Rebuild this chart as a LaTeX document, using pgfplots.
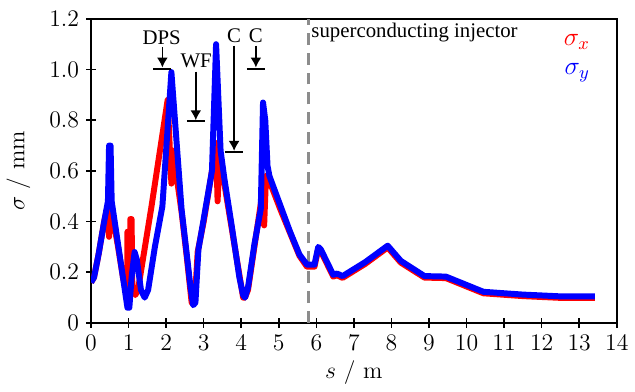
\RequirePackage{fix-cm}
\documentclass[border=0pt]{standalone}
\usepackage{fontspec}
\newfontfamily\timesfont{Liberation Serif}
\usepackage{pgfplots}
\pgfplotsset{compat=1.18}
\usetikzlibrary{arrows.meta}

\begin{document}
\begin{tikzpicture}
\begin{axis}[
  scale only axis, width=264.5bp, height=153bp,
  xmin=0, xmax=14, ymin=0, ymax=1.2,
  xtick={0,1,2,3,4,5,6,7,8,9,10,11,12,13,14},
  ytick={0,0.2,0.4,0.6,0.8,1.0,1.2},
  yticklabels={$0$,$0.2$,$0.4$,$0.6$,$0.8$,$1.0$,$1.2$},
  xtick pos=bottom, ytick pos=left,
  tick align=center, major tick length=5bp,
  axis line style={line width=1bp},
  every tick/.style={line width=0.8bp, black},
  tick label style={font=\fontsize{12}{14}\selectfont},
  label style={font=\fontsize{12}{14}\selectfont},
  xlabel={$s$ / m}, ylabel={$\sigma$ / mm},
  xlabel style={at={(axis description cs:0.5,-0.163)}, anchor=center},
  ylabel style={at={(axis description cs:-0.138,0.5)}, anchor=center},
]
\draw[gray!90, line width=1.5bp, dash pattern=on 6bp off 4bp] (axis cs:5.8,0) -- (axis cs:5.8,1.2);

\addplot[red, line width=3bp, line join=round] coordinates {
(0.00,0.16) (0.08,0.18) (0.20,0.27) (0.35,0.40) (0.44,0.46) (0.48,0.34) (0.53,0.44) (0.58,0.42)
(0.72,0.30) (0.85,0.18) (0.94,0.12) (0.965,0.12) (0.97,0.36) (0.99,0.36) (1.01,0.14) (1.04,0.14)
(1.045,0.41) (1.08,0.41) (1.10,0.14) (1.18,0.11) (1.25,0.13) (1.61,0.46) (2.04,0.88) (2.14,0.55)
(2.18,0.68) (2.41,0.44) (2.55,0.26) (2.68,0.08) (2.76,0.08) (2.84,0.28) (3.00,0.40) (3.20,0.58)
(3.33,0.71) (3.37,0.48) (3.41,0.62) (3.45,0.66) (3.55,0.55) (4.05,0.10) (4.10,0.10) (4.18,0.13)
(4.35,0.30) (4.55,0.50) (4.61,0.385) (4.66,0.58) (4.75,0.56) (5.05,0.445) (5.30,0.355) (5.55,0.265)
(5.75,0.222) (5.95,0.222) (6.05,0.292) (6.12,0.283) (6.45,0.183) (6.55,0.188) (6.70,0.178)
(7.30,0.233) (7.90,0.298) (8.25,0.238) (8.88,0.179) (9.45,0.177) (10.0,0.144) (10.45,0.117)
(11.5,0.106) (12.5,0.099) (13.42,0.099)
};
\addplot[blue, line width=3bp, line join=round] coordinates {
(0.00,0.16) (0.08,0.18) (0.20,0.27) (0.35,0.40) (0.45,0.48) (0.48,0.70) (0.52,0.70) (0.55,0.48)
(0.70,0.33) (0.85,0.18) (0.97,0.06) (1.02,0.06) (1.08,0.18) (1.16,0.28) (1.22,0.25) (1.33,0.13)
(1.43,0.10) (1.52,0.13) (1.70,0.30) (1.90,0.46) (2.14,0.99) (2.41,0.45) (2.55,0.27) (2.65,0.14)
(2.72,0.07) (2.78,0.08) (2.86,0.29) (3.00,0.41) (3.22,0.60) (3.33,1.10) (3.45,0.68) (3.55,0.57)
(3.75,0.38) (3.95,0.18) (4.05,0.11) (4.10,0.10) (4.18,0.14) (4.35,0.31) (4.52,0.45) (4.58,0.87)
(4.64,0.80) (4.70,0.62) (4.75,0.58) (5.05,0.46) (5.30,0.36) (5.55,0.27) (5.75,0.23) (5.95,0.23)
(6.05,0.30) (6.12,0.29) (6.45,0.19) (6.55,0.195) (6.70,0.185) (7.30,0.24) (7.90,0.305) (8.25,0.245)
(8.88,0.185) (9.45,0.183) (10.0,0.15) (10.45,0.123) (11.5,0.112) (12.5,0.105) (13.42,0.105)
};

% annotations
\node[font=\timesfont\fontsize{10.5}{12}\selectfont, anchor=base] at (axis cs:1.88,1.098) {DPS};
\draw[line width=0.8bp, -{Latex[length=5bp,width=5.5bp]}] (axis cs:1.90,1.088) -- (axis cs:1.90,1.008);
\draw[line width=1bp] ([xshift=-4.5bp]axis cs:1.90,1.004) -- ([xshift=4.5bp]axis cs:1.90,1.004);

\node[font=\timesfont\fontsize{10.5}{12}\selectfont, anchor=base] at (axis cs:2.80,1.008) {WF};
\draw[line width=0.8bp, -{Latex[length=5bp,width=5.5bp]}] (axis cs:2.79,0.992) -- (axis cs:2.79,0.800);
\draw[line width=1bp] ([xshift=-4.5bp]axis cs:2.79,0.796) -- ([xshift=4.5bp]axis cs:2.79,0.796);

\node[font=\timesfont\fontsize{10.5}{12}\selectfont, anchor=base] at (axis cs:3.81,1.106) {C};
\draw[line width=0.8bp, -{Latex[length=5bp,width=5.5bp]}] (axis cs:3.81,1.094) -- (axis cs:3.81,0.679);
\draw[line width=1bp] ([xshift=-4.5bp]axis cs:3.81,0.675) -- ([xshift=4.5bp]axis cs:3.81,0.675);

\node[font=\timesfont\fontsize{10.5}{12}\selectfont, anchor=base] at (axis cs:4.39,1.106) {C};
\draw[line width=0.8bp, -{Latex[length=5bp,width=5.5bp]}] (axis cs:4.39,1.094) -- (axis cs:4.39,1.008);
\draw[line width=1bp] ([xshift=-4.5bp]axis cs:4.39,1.004) -- ([xshift=4.5bp]axis cs:4.39,1.004);

\node[font=\timesfont\fontsize{10.5}{12}\selectfont, anchor=base west, inner sep=0pt] at (axis cs:5.86,1.125) {superconducting injector};

\node[font=\fontsize{13}{15}\selectfont, anchor=east, text=red] at (rel axis cs:0.962,0.925) {$\sigma_x$};
\node[font=\fontsize{13}{15}\selectfont, anchor=east, text=blue] at (rel axis cs:0.962,0.824) {$\sigma_y$};

\coordinate (bl) at (rel axis cs:-0.172,-0.209);
\coordinate (tr) at (rel axis cs:1.028,1.062);
\end{axis}
\path (bl) rectangle (tr);
\end{tikzpicture}
\end{document}
